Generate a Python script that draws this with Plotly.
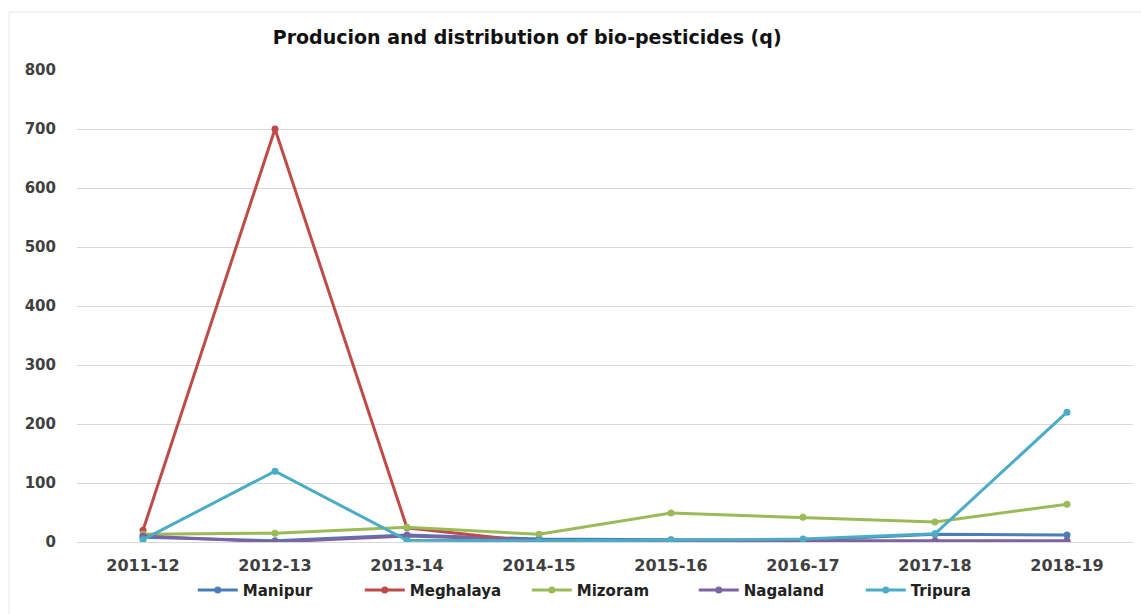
import plotly.graph_objects as go

# Financial years on the category axis
years = ["2011-12", "2012-13", "2013-14", "2014-15", "2015-16", "2016-17", "2017-18", "2018-19"]

# Bio-pesticide production and distribution per state (quintals)
manipur = [8, 2, 12, 5, 4, 3, 13, 12]
meghalaya = [20, 700, 24, 0, 0, 0, 0, 0]
mizoram = [13, 15, 25, 13, 49, 42, 34, 64]
nagaland = [10, 0, 10, 3, 2, 2, 2, 2]
tripura = [4, 120, 3, 2, 3, 5, 14, 220]

y_ticks = [0, 100, 200, 300, 400, 500, 600, 700, 800]

series = [
    ("Manipur", manipur, "#4A7EBB"),
    ("Meghalaya", meghalaya, "#BE4B48"),
    ("Mizoram", mizoram, "#9BBB59"),
    ("Nagaland", nagaland, "#7E62A1"),
    ("Tripura", tripura, "#4BACC6"),
]

fig = go.Figure()
for name, vals, color in series:
    fig.add_trace(go.Scatter(
        x=years, y=vals, name=name, mode="lines+markers",
        line=dict(color=color, width=3),
        marker=dict(color=color, size=7, symbol="circle"),
    ))

y_tick_font = dict(family="DejaVu Sans", size=15, color="#404040", weight="bold")
x_tick_font = dict(family="DejaVu Sans", size=16, color="#404040", weight="bold")

fig.update_layout(
    width=1141, height=614,
    paper_bgcolor="white", plot_bgcolor="white",
    margin=dict(l=77, r=8, t=70, b=71),
    title=dict(
        text="Producion and distribution of bio-pesticides (q)",
        x=0.462, xanchor="center", xref="container",
        y=1 - 37 / 614, yanchor="middle", yref="container",
        font=dict(family="DejaVu Sans", size=19, color="#111111", weight="bold"),
    ),
    xaxis=dict(
        type="category", categoryarray=years, range=[-0.5, 7.5],
        showgrid=False, showline=False, zeroline=False, automargin=False,
        ticks="", tickfont=x_tick_font, ticklabelstandoff=12,
    ),
    yaxis=dict(
        range=[0, 800], tickvals=y_ticks, showgrid=True,
        gridcolor="#D9D9D9", gridwidth=1, zeroline=True,
        zerolinecolor="#D9D9D9", zerolinewidth=1, automargin=False,
        showline=False, ticks="", tickfont=y_tick_font,
        ticklabelstandoff=20,
    ),
    legend=dict(
        orientation="h", x=0.505, xanchor="center",
        y=-0.1, yanchor="middle",
        font=dict(family="DejaVu Sans", size=15, color="#222222", weight="bold"),
        itemwidth=40, traceorder="normal",
        entrywidth=112, entrywidthmode="pixels",
    ),
    showlegend=True,
    shapes=[dict(
        type="rect", xref="paper", yref="paper",
        x0=-68 / 1056, x1=1.02, y0=-0.2, y1=(614 - 12 - 71) / 473,
        line=dict(color="#E6E6E6", width=1), layer="below",
    )],
)

fig.write_html("out.html")
